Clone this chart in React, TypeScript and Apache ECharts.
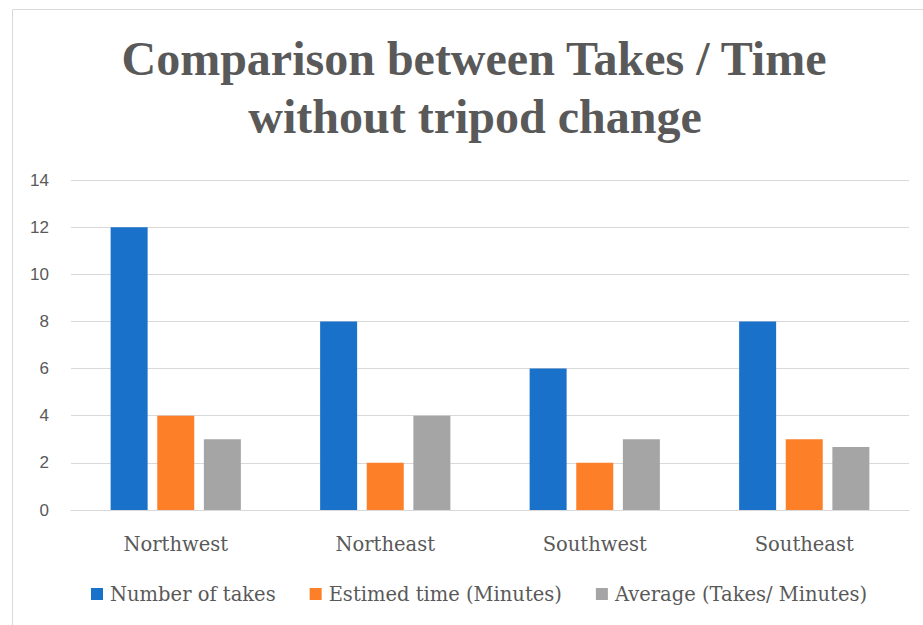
import React, { useEffect, useRef } from "react";
import * as echarts from "echarts";

const categories = ["Northwest", "Northeast", "Southwest", "Southeast"];
const seriesNames = ["Number of takes", "Estimed time (Minutes)", "Average (Takes/ Minutes)"];
const takes = [12, 8, 6, 8];
const minutes = [4, 2, 2, 3];
const average = [3, 4, 3, 2.67];
const colors = ["#1a71c9", "#fd7f27", "#a5a5a5"];
const titleLines = ["Comparison between Takes / Time", "without tripod change"];

const SERIF = "'Liberation Serif', 'DejaVu Serif', serif";
const LABEL_SERIF = "'DejaVu Serif', 'Liberation Serif', serif";

export default function App() {
  const ref = useRef<HTMLDivElement>(null);
  useEffect(() => {
    if (!ref.current) return;
    const chart = echarts.init(ref.current, undefined, { renderer: "svg" });
    const data = [takes, minutes, average];
    chart.setOption({
      animation: false,
      backgroundColor: "#ffffff",
      color: colors,
      graphic: [
        {
          type: "rect",
          shape: { x: 12.5, y: 9.5, width: 1000, height: 800 },
          style: { fill: "none", stroke: "#d9d9d9", lineWidth: 1 },
          silent: true,
        },
        {
          type: "text",
          x: 474,
          y: 82,
          style: {
            text: titleLines[0],
            font: `bold 48px ${SERIF}`,
            fill: "#595959",
            textAlign: "center",
            textVerticalAlign: "bottom",
          },
        },
        {
          type: "text",
          x: 475,
          y: 140,
          style: {
            text: titleLines[1],
            font: `bold 48px ${SERIF}`,
            fill: "#595959",
            textAlign: "center",
            textVerticalAlign: "bottom",
          },
        },
      ],
      legend: {
        data: seriesNames,
        bottom: 16,
        left: 86,
        itemWidth: 12,
        itemHeight: 12,
        itemGap: 34,
        icon: "rect",
        textStyle: { fontFamily: LABEL_SERIF, fontSize: 19.5, color: "#595959", padding: [0, 0, 0, 2] },
      },
      grid: { left: 71, right: 14, top: 180, bottom: 115 },
      xAxis: {
        type: "category",
        data: categories,
        axisTick: { show: false },
        axisLine: { lineStyle: { color: "#d9d9d9", width: 1 } },
        axisLabel: { fontFamily: LABEL_SERIF, fontSize: 19.5, color: "#595959", margin: 24 },
      },
      yAxis: {
        type: "value",
        min: 0,
        max: 14,
        interval: 2,
        axisLine: { show: false },
        axisTick: { show: false },
        splitLine: { lineStyle: { color: "#d9d9d9", width: 1 } },
        axisLabel: { fontFamily: "'Liberation Sans', 'Open Sans', sans-serif", fontSize: 17, color: "#595959", margin: 22 },
      },
      series: seriesNames.map((name, i) => ({
        name,
        type: "bar",
        data: data[i],
        barWidth: 37,
        barGap: "26%",
        itemStyle: { color: colors[i] },
      })),
    });
    return () => chart.dispose();
  }, []);
  return (
    <div
      ref={ref}
      style={{ position: "absolute", left: 0, top: 0, width: 923, height: 625 }}
    />
  );
}
